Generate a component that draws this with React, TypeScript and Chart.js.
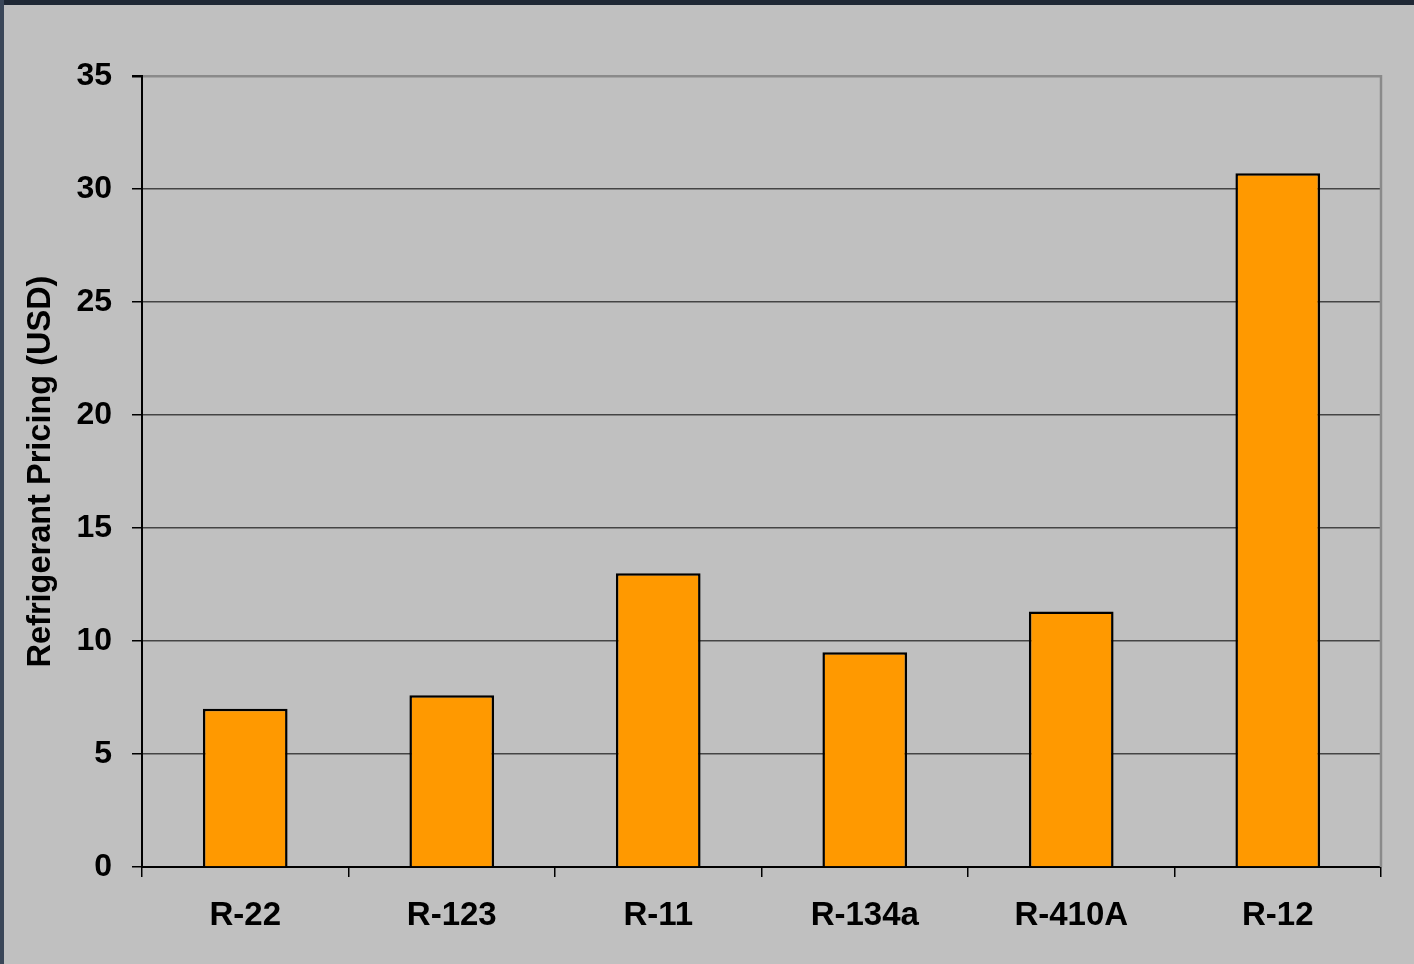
import React, { useEffect, useRef } from "react";
import { Chart, registerables } from "chart.js";

Chart.register(...registerables);

const categories = ["R-22", "R-123", "R-11", "R-134a", "R-410A", "R-12"];
const prices = [7.0, 7.6, 13.0, 9.5, 11.3, 30.7];
const yTicks = [0, 5, 10, 15, 20, 25, 30, 35];
const yTitle = "Refrigerant Pricing (USD)";

const FONT = "'Liberation Sans', Arial, sans-serif";

const rightBorder = {
  id: "rightBorder",
  afterDatasetsDraw(chart: any) {
    const { ctx, chartArea } = chart;
    ctx.save();
    ctx.strokeStyle = "#8a8a8a";
    ctx.lineWidth = 2.5;
    ctx.beginPath();
    ctx.moveTo(chartArea.right, chartArea.top - 1);
    ctx.lineTo(chartArea.right, chartArea.bottom);
    ctx.stroke();
    ctx.restore();
  },
};

export default function App() {
  const ref = useRef<HTMLCanvasElement>(null);

  useEffect(() => {
    document.body.style.margin = "0";
    document.body.style.background = "#c0c0c0";
    const chart = new Chart(ref.current!, {
      type: "bar",
      data: {
        labels: categories,
        datasets: [
          {
            data: prices,
            backgroundColor: "#ff9900",
            borderColor: "#000000",
            borderWidth: 2.5,
            barPercentage: 0.41,
            categoryPercentage: 1,
          },
        ],
      },
      options: {
        animation: false,
        responsive: false,
        maintainAspectRatio: false,
        layout: { padding: { top: 76, right: 33, bottom: 0, left: 0 } },
        plugins: { legend: { display: false }, tooltip: { enabled: false } },
        scales: {
          x: {
            afterFit: (s: any) => {
              s.height = 97;
            },
            grid: {
              drawOnChartArea: false,
              drawTicks: true,
              tickLength: 10,
              color: "#000",
              lineWidth: 1.5,
            },
            border: { color: "#000", width: 2 },
            ticks: {
              padding: 19,
              color: "#000",
              font: { family: FONT, size: 33, weight: "bold" },
            },
          },
          y: {
            min: 0,
            max: 35,
            afterFit: (s: any) => {
              s.width = 142;
            },
            afterBuildTicks: (s: any) => {
              s.ticks = yTicks.map((v) => ({ value: v }));
            },
            grid: {
              color: (c: any) => (c.tick && c.tick.value === 35 ? "#8a8a8a" : "#444444"),
              lineWidth: (c: any) => (c.tick && c.tick.value === 35 ? 2.5 : 1.5),
              tickColor: "#000",
              tickLength: 10,
            },
            border: { color: "#000", width: 2 },
            ticks: {
              padding: 20,
              color: "#000",
              font: { family: FONT, size: 32, weight: "bold" },
            },
            title: {
              display: true,
              text: yTitle,
              color: "#000",
              padding: { top: 22, bottom: 0 },
              font: { family: FONT, size: 32.5, weight: "bold" },
            },
          },
        },
      },
      plugins: [rightBorder],
    });
    return () => chart.destroy();
  }, []);

  return (
    <div style={{ position: "fixed", left: 0, top: 0, width: 1414, height: 964, background: "#c0c0c0" }}>
      <canvas ref={ref} width={1414} height={964} style={{ position: "absolute", left: 0, top: 0, width: 1414, height: 964 }} />
      <div style={{ position: "absolute", left: 0, top: 0, width: 1414, height: 5, background: "#1f2835" }} />
      <div style={{ position: "absolute", left: 0, top: 0, width: 4, height: 964, background: "#3a4658" }} />
    </div>
  );
}
